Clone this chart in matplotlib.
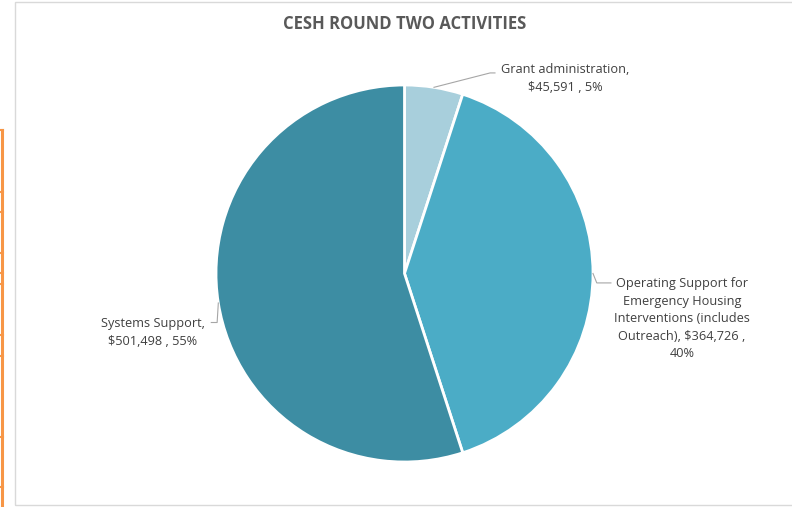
import numpy as np
import matplotlib.pyplot as plt
from matplotlib.lines import Line2D
from matplotlib.patches import Rectangle

plt.rcParams['font.family'] = ['Open Sans', 'DejaVu Sans']

# activity breakdown
names = ["Grant administration,", "Operating Support for\nEmergency Housing\nInterventions (includes\nOutreach),", "Systems Support,"]
amounts = [45591, 364726, 501498]
colors = ["#A8CFDC", "#4BACC6", "#3D8DA3"]
# where each label wraps: after the name, after the amount
breaks = [("\n", " "), (" ", "\n"), ("\n", " ")]

W, H = 792, 507
fig = plt.figure(figsize=(W / 100, H / 100), dpi=100)

# chart frame and spreadsheet edge
fig.add_artist(Rectangle((15 / W, 2 / H), 1.0, (503) / H, transform=fig.transFigure,
                         fill=False, edgecolor="#D9D9D9", linewidth=1.0))
fig.add_artist(Line2D([2 / W, 2 / W], [0, (507 - 130) / H], transform=fig.transFigure,
                      color="#F79646", linewidth=2.2))
for ty in [130, 192, 212, 253, 273, 284, 335, 356, 437, 487]:
    fig.add_artist(Line2D([0, 3 / W], [(507 - ty) / H] * 2, transform=fig.transFigure,
                          color="#F79646", linewidth=1.5))

# pie axes: centre and radius in pixels
cx, cy, R = 404.5, 273.5, 188.5
ax = fig.add_axes([(cx - R) / W, (H - cy - R) / H, 2 * R / W, 2 * R / H])
wedges, _ = ax.pie(amounts, colors=colors, startangle=90, counterclock=False, radius=1,
                   wedgeprops=dict(edgecolor="white", linewidth=2))
ax.set_xlim(-1, 1)
ax.set_ylim(-1, 1)
ax.set_aspect("equal")
ax.axis("off")

fig.text(405 / W, 1 - 24 / H, "CESH ROUND TWO ACTIVITIES", ha="center", va="center",
         fontsize=12, fontweight="bold", color="#595959")

total = sum(amounts)
# label centre, leader elbow, leader end (data units)
label_pos = [(0.851, 1.035), (1.472, -0.241), (-1.334, -0.313)]
elbows = [((0.454, 1.064), (0.48, 1.064)),
          ((1.02, -0.05), (1.095, -0.05)),
          ((-0.994, -0.26), (-1.025, -0.26))]
for w, name, amt, brk, pos, (e1, e2) in zip(wedges, names, amounts, breaks, label_pos, elbows):
    mid = np.deg2rad((w.theta1 + w.theta2) / 2)
    x0, y0 = np.cos(mid), np.sin(mid)
    ax.add_line(Line2D([x0, e1[0], e2[0]], [y0, e1[1], e2[1]], color="#A6A6A6",
                       linewidth=0.8, clip_on=False))
    pct = round(100 * amt / total)
    txt = f"{name}{brk[0]}${amt:,} ,{brk[1]}{pct}%"
    ax.text(pos[0], pos[1], txt, ha="center", va="center", fontsize=9.2,
            color="#404040", linespacing=1.45, clip_on=False)

fig.savefig("out.png", dpi=100)
